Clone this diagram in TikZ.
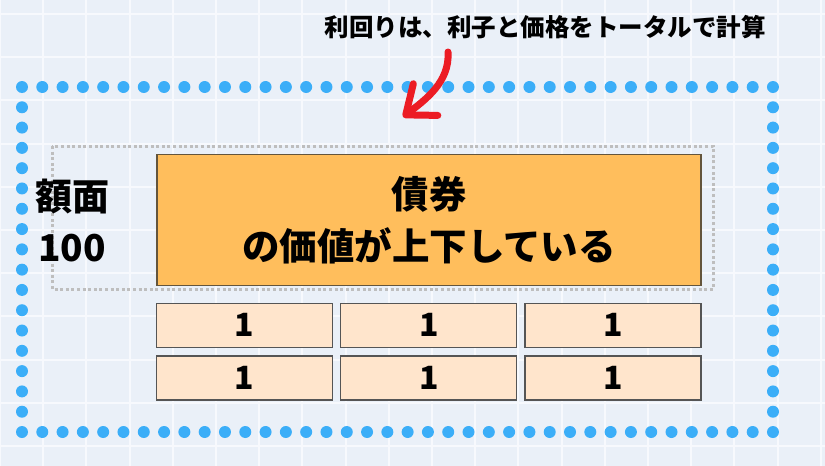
\documentclass[tikz,border=0pt]{standalone}
\usepackage{fontspec}
\setmainfont{Noto Sans CJK JP}
\usetikzlibrary{arrows.meta}
\definecolor{bgblue}{HTML}{EAF0F8}
\definecolor{gridwhite}{HTML}{F7F9FD}
\definecolor{dotblue}{HTML}{3BAEF8}
\definecolor{bondorange}{HTML}{FFBE5C}
\definecolor{cellpeach}{HTML}{FFE5CC}
\definecolor{arrowred}{HTML}{EC1C24}
\tikzset{
  gridline/.style={gridwhite,line width=2pt},
  bluedot/.style={fill=dotblue},
  greybox/.style={draw={rgb,255:red,190;green,190;blue,190},line width=3pt,dash pattern=on 3pt off 2.6pt},
  bondbox/.style={draw={rgb,255:red,100;green,85;blue,60},line width=1.3pt,fill=bondorange,minimum width=544pt,minimum height=131pt,inner sep=0pt,align=center,font=\bfseries\fontsize{37.5}{52}\selectfont},
  cell/.style={draw={rgb,255:red,85;green,85;blue,85},line width=1.2pt,fill=cellpeach,minimum width=176pt,minimum height=44pt,inner sep=0pt,font=\bfseries\fontsize{32}{32}\selectfont},
  redarrow/.style={arrowred,line width=7pt,line cap=round,-{Straight Barb[length=25pt,width=40pt,round]}}
}
\begin{document}
\begin{tikzpicture}[x=1pt,y=-1pt]
\fill[bgblue] (0,0) rectangle (825,466);
\useasboundingbox (0,0) rectangle (825,466);
\foreach \gx in {0,43.2,...,825} \draw[gridline] (\gx,0) -- (\gx,466);
\foreach \gy in {14,57.2,...,466} \draw[gridline] (0,\gy) -- (825,\gy);
% dotted frame
\foreach \i in {0,...,37} {
  \fill[bluedot] ({22+\i*20.297},87) circle (6);
  \fill[bluedot] ({22+\i*20.297},432) circle (6);
}
\foreach \j in {1,...,16} {
  \fill[bluedot] (22,{87+\j*20.294}) circle (6);
  \fill[bluedot] (773,{87+\j*20.294}) circle (6);
}
\draw[greybox] (52,146) rectangle (713,289);
\node[bondbox] (bond) at (429,220) {債券\\の価値が上下している};
\node[align=center,font=\bfseries\fontsize{37}{51}\selectfont] (face) at (72,221) {額面\\100};
\foreach \r/\ry in {1/325.3,2/378} {
  \foreach \c/\cx in {1/244.4,2/428.8,3/613} {
    \node[cell] (c\r\c) at (\cx,\ry) {1};
  }
}
\node[font=\bfseries\fontsize{24.5}{24.5}\selectfont] (note) at (545,27) {利回りは、利子と価格をトータルで計算};
\coordinate (tip) at (403,117);
\draw[redarrow] (448,52) .. controls (450,82) and (425,100) .. (tip);
\end{tikzpicture}
\end{document}
